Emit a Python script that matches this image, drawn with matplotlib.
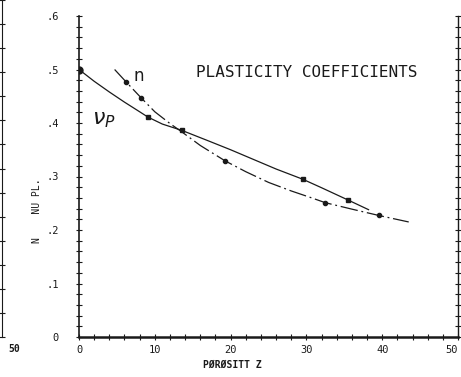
import matplotlib
matplotlib.use("Agg")
from matplotlib import pyplot as plt
import matplotlib.ticker as plticker

# values
# nu_p : squares + solid curve
nup_x = [0, 9.1, 13.6, 29.5, 35.5]
nup_y = [0.500, 0.411, 0.387, 0.295, 0.256]
nup_curve_x = [0, 2, 4, 6, 8, 9.1, 11, 13.6, 17, 20, 23, 26, 29.5, 32, 35.5, 38.2]
nup_curve_y = [0.500, 0.478, 0.458, 0.439, 0.421, 0.411, 0.398, 0.386, 0.367, 0.350,
               0.332, 0.314, 0.295, 0.279, 0.256, 0.238]

# n : dots + dash-dot curve
n_x = [6.2, 8.2, 19.3, 32.5, 39.6]
n_y = [0.477, 0.447, 0.329, 0.250, 0.228]
n_curve_x = [4.7, 6.2, 8.2, 10, 12, 13.6, 16, 19.3, 22, 25, 28, 30.7, 32.5, 36, 39.6, 43.5]
n_curve_y = [0.500, 0.477, 0.447, 0.421, 0.399, 0.383, 0.358, 0.329, 0.309, 0.289,
             0.273, 0.260, 0.251, 0.239, 0.227, 0.215]

xticks = [0, 10, 20, 30, 40, 50]
yticks = [0, 0.1, 0.2, 0.3, 0.4, 0.5, 0.6]
ytick_labels = ["0", ".1", ".2", ".3", ".4", ".5", ".6"]

ink = "#1a1a1a"
mono = "DejaVu Sans Mono"

W, H = 461, 377
fig = plt.figure(figsize=(W / 100, H / 100), dpi=100)

ax = fig.add_axes([79 / W, 40 / H, 379 / W, 321 / H])
ax.set_xlim(0, 50)
ax.set_ylim(0, 0.6)

ax.plot(nup_curve_x, nup_curve_y, color=ink, lw=0.9)
ax.plot(n_curve_x, n_curve_y, color=ink, lw=0.9, dashes=(14, 3, 1.5, 3))
ax.plot(nup_x[:1], nup_y[:1], "o", color=ink, ms=5)
ax.plot(nup_x[1:], nup_y[1:], "s", color=ink, ms=3.5)
ax.plot(n_x, n_y, "o", color=ink, ms=3)

ax.text(7.9, 0.488, "n", fontsize=12, color=ink, ha="center", va="center")
ax.text(3.3, 0.405, r"$\nu_P$", fontsize=16, color=ink, ha="center", va="center")
ax.text(30.1, 0.495, "PLASTICITY COEFFICIENTS", family=mono, fontsize=11.5,
        color=ink, ha="center", va="center")

ax.spines["top"].set_visible(False)
ax.spines["left"].set_linewidth(1.2)
ax.spines["right"].set_linewidth(1.0)
ax.spines["bottom"].set_linewidth(1.8)
for s in ax.spines.values():
    s.set_color(ink)

ax.set_xticks(xticks)
ax.set_xticklabels([str(t) for t in xticks], family=mono, fontsize=7.5, color=ink)
ax.get_xticklabels()[-1].set_horizontalalignment("right")
ax.set_yticks(yticks)
ax.set_yticklabels(ytick_labels, family=mono, fontsize=7.5, color=ink)
ax.xaxis.set_minor_locator(plticker.MultipleLocator(2))
ax.yaxis.set_minor_locator(plticker.MultipleLocator(0.02))
ax.tick_params(which="both", direction="inout", length=5, width=0.8, color=ink,
               right=True)
ax.tick_params(axis="y", which="major", pad=12)
ax.tick_params(axis="x", which="major", pad=3)

fig.text(37 / W, 1 - 211 / H, "N    NU PL.", family=mono, fontsize=7, color=ink,
         rotation=90, ha="center", va="center")
fig.text(232 / W, 1 - 365 / H, "PØRØSITT Z", family=mono, fontsize=7,
         weight="bold", color=ink, ha="center", va="center")

# edge of the neighbouring plot on the left of the scan
ax_prev = fig.add_axes([2 / W, 40 / H, 0.02, 337 / H])
ax_prev.set_ylim(0, 14)
ax_prev.yaxis.set_major_locator(plticker.MultipleLocator(1))
for side in ["top", "right", "bottom"]:
    ax_prev.spines[side].set_visible(False)
ax_prev.spines["left"].set_color(ink)
ax_prev.set_xticks([])
ax_prev.tick_params(axis="y", direction="inout", length=5, width=0.8, color=ink,
                    labelleft=False)
ax_prev.patch.set_alpha(0)
fig.text(14 / W, 1 - 349 / H, "50", family=mono, fontsize=7, weight="bold",
         color=ink, ha="center", va="center")

fig.savefig("out.png", dpi=100)
